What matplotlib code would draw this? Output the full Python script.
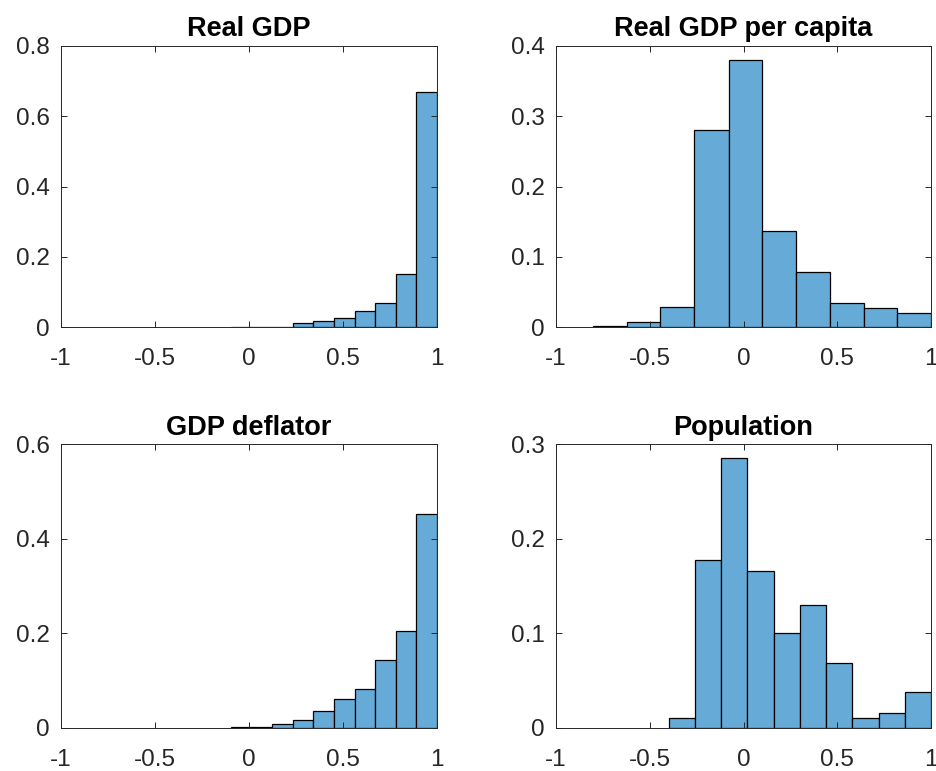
import numpy as np
import matplotlib
matplotlib.use("Agg")
import matplotlib.pyplot as plt

plt.rcParams['font.family'] = ['Liberation Sans', 'DejaVu Sans']

titles = ["Real GDP", "Real GDP per capita", "GDP deflator", "Population"]

# bin edges and probability heights
real_gdp_edges = [-0.096, 0.014, 0.123, 0.233, 0.342, 0.452, 0.562, 0.671, 0.781, 0.890, 1.0]
real_gdp_vals = [0.002, 0.0, 0.0, 0.011, 0.018, 0.026, 0.047, 0.069, 0.151, 0.670]

gdp_pc_edges = [-0.804, -0.623, -0.443, -0.262, -0.080, 0.100, 0.279, 0.459, 0.640, 0.820, 1.0]
gdp_pc_vals = [0.002, 0.007, 0.029, 0.280, 0.380, 0.137, 0.078, 0.035, 0.027, 0.021]

deflator_edges = [-0.096, 0.014, 0.123, 0.233, 0.342, 0.452, 0.562, 0.671, 0.781, 0.890, 1.0]
deflator_vals = [0.001, 0.001, 0.007, 0.0155, 0.0346, 0.060, 0.081, 0.143, 0.205, 0.453]

pop_edges = [-0.399, -0.259, -0.119, 0.020, 0.160, 0.300, 0.440, 0.580, 0.720, 0.860, 1.0]
pop_vals = [0.0106, 0.178, 0.285, 0.1655, 0.100, 0.130, 0.068, 0.0106, 0.016, 0.038]

ylims = [0.8, 0.4, 0.6, 0.3]
yticks = [[0, 0.2, 0.4, 0.6, 0.8], [0, 0.1, 0.2, 0.3, 0.4],
          [0, 0.2, 0.4, 0.6], [0, 0.1, 0.2, 0.3]]
xticks = [-1, -0.5, 0, 0.5, 1]

data = [(real_gdp_edges, real_gdp_vals), (gdp_pc_edges, gdp_pc_vals),
        (deflator_edges, deflator_vals), (pop_edges, pop_vals)]

W, H = 936, 771
positions = [
    (61 / W, 1 - 327.3 / H, 376 / W, 281.3 / H),
    (556 / W, 1 - 327.3 / H, 375 / W, 281.3 / H),
    (61 / W, 1 - 727.7 / H, 376 / W, 283.4 / H),
    (556 / W, 1 - 727.7 / H, 375 / W, 283.4 / H),
]

face = (0.4, 0.668, 0.845)
axcol = '#262626'

fig = plt.figure(figsize=(W / 100, H / 100), dpi=100)
for i, (edges, vals) in enumerate(data):
    ax = fig.add_axes(positions[i])
    edges = np.array(edges)
    ax.hist(edges[:-1], bins=edges, weights=vals, color=face,
            edgecolor='black', linewidth=0.9)
    ax.set_xlim(-1, 1)
    ax.set_ylim(0, ylims[i])
    ax.set_xticks(xticks)
    ax.set_xticklabels(['-1', '-0.5', '0', '0.5', '1'])
    ax.set_yticks(yticks[i])
    ax.set_yticklabels(['0' if v == 0 else ('%g' % v) for v in yticks[i]])
    ax.tick_params(direction='in', length=4, width=0.7, color=axcol,
                   labelcolor=axcol, labelsize=17.5, top=True, right=True)
    ax.tick_params(axis='x', pad=15)
    ax.tick_params(axis='y', pad=8)
    for s in ax.spines.values():
        s.set_color(axcol)
        s.set_linewidth(0.7)
    ax.set_title(titles[i], fontsize=19.5, fontweight='bold', pad=7)

fig.savefig("out.png", dpi=100)
